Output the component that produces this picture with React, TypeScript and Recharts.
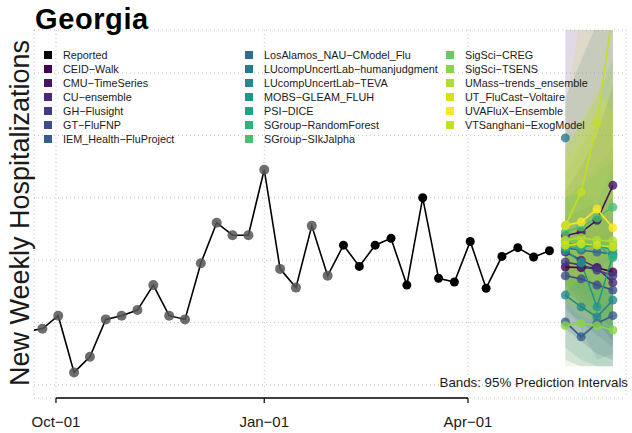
import React from 'react';
import {
  ComposedChart, Line, Area, XAxis, YAxis, CartesianGrid, ReferenceLine
} from 'recharts';

const ORIGIN = '2021-10-01';
const FONT = '"Liberation Sans", Arial, sans-serif';

// 주간 보고 입원 수 (토요일 기준)
const obsDates = [
  '2021-09-18', '2021-09-25', '2021-10-02', '2021-10-09', '2021-10-16', '2021-10-23', '2021-10-30',
  '2021-11-06', '2021-11-13', '2021-11-20', '2021-11-27', '2021-12-04', '2021-12-11', '2021-12-18',
  '2021-12-25', '2022-01-01', '2022-01-08', '2022-01-15', '2022-01-22', '2022-01-29', '2022-02-05',
  '2022-02-12', '2022-02-19', '2022-02-26', '2022-03-05', '2022-03-12', '2022-03-19', '2022-03-26',
  '2022-04-02', '2022-04-09', '2022-04-16', '2022-04-23', '2022-04-30', '2022-05-07',
];
const reported = [
  86, 90, 111, 20, 45, 105, 111, 120, 160, 111, 105, 195, 260, 240, 240, 345, 186, 156, 255, 175,
  224, 190, 224, 235, 160, 300, 171, 165, 230, 155, 206, 220, 205, 215,
];
// 앞쪽 n개는 회색 점 (이전 값)
const revisedCount = 20;

const tickDates = ['2021-10-01', '2022-01-01', '2022-04-01'];
const tickLabels = ['Oct\u221201', 'Jan\u221201', 'Apr\u221201'];
const gridValues = [0, 100, 200, 300, 400, 500];

const fcDates = ['2022-05-14', '2022-05-21', '2022-05-28', '2022-06-04'];

const models = [
  'CEID\u2212Walk', 'CMU\u2212TimeSeries', 'CU\u2212ensemble', 'GH\u2212Flusight', 'GT\u2212FluFNP',
  'IEM_Health\u2212FluProject', 'LosAlamos_NAU\u2212CModel_Flu', 'LUcompUncertLab\u2212humanjudgment',
  'LUcompUncertLab\u2212TEVA', 'MOBS\u2212GLEAM_FLUH', 'PSI\u2212DICE', 'SGroup\u2212RandomForest',
  'SGroup\u2212SIkJalpha', 'SigSci\u2212CREG', 'SigSci\u2212TSENS', 'UMass\u2212trends_ensemble',
  'UT_FluCast\u2212Voltaire', 'UVAFluX\u2212Ensemble', 'VTSanghani\u2212ExogModel',
];
const colors = [
  '#440154', '#471365', '#48287a', '#443983', '#3d4e8a', '#365d8d', '#2f6b8e', '#29798e',
  '#23888e', '#1f988b', '#20a486', '#2eb37c', '#46c06f', '#65cb5e', '#89d548', '#b1dd2f',
  '#d8e219', '#fde725', '#c2df23',
];

// 모델별 중앙값 (1~4주 앞)
const medians: (number | null)[][] = [
  [189, 188, 188, 181],
  [239, 245, 264, 320],
  [213, 200, 188, 164],
  [197, 192, 184, 175],
  [175, 170, 160, 152],
  [101, 77, 99, 111],
  [220, 216, 213, 210],
  [396, null, null, null],
  [144, 125, 109, 136],
  [216, 196, 125, 207],
  [228, 223, 224, 216],
  [221, 220, 226, 204],
  [245, 253, 268, 285],
  [231, 229, 228, 224],
  [95, 99, 95, 88],
  [232, 236, 232, 231],
  [224, 226, 224, 221],
  [256, 261, 282, 252],
  [255, 309, 420, 600],
];
// 95% 예측구간 하한/상한
const lower: (number | null)[][] = [
  [90, 70, 50, 40], [170, 150, 130, 110], [160, 130, 100, 70], [150, 130, 110, 90],
  [120, 100, 80, 60], [40, 30, 30, 30], [160, 140, 120, 100], [330, null, null, null],
  [60, 40, 30, 30], [130, 90, 40, 50], [150, 130, 110, 90], [140, 120, 100, 80],
  [160, 150, 140, 130], [140, 120, 100, 90], [30, 30, 30, 30], [140, 120, 110, 100],
  [130, 110, 100, 90], [180, 170, 160, 150], [150, 170, 200, 240],
];
const upper: (number | null)[][] = [
  [600, 650, 700, 750], [310, 350, 400, 480], [270, 280, 290, 300], [250, 260, 270, 280],
  [240, 250, 260, 270], [170, 170, 180, 190], [460, 520, 580, 640], [470, null, null, null],
  [240, 230, 220, 250], [300, 310, 290, 350], [300, 320, 340, 360], [300, 320, 350, 380],
  [380, 420, 460, 520], [340, 380, 420, 460], [170, 180, 190, 200], [380, 420, 470, 520],
  [360, 400, 440, 480], [380, 420, 470, 440], [440, 600, 800, 1000],
];

const dayOf = (d: string) => Math.round((Date.parse(d) - Date.parse(ORIGIN)) / 86400000);
const tickDays = tickDates.map(dayOf);

const rows: any[] = [
  ...obsDates.map((d, i) => ({
    day: dayOf(d),
    reported: reported[i],
    grey: i < revisedCount ? reported[i] : undefined,
    black: i >= revisedCount ? reported[i] : undefined,
  })),
  ...fcDates.map((d, h) => {
    const r: any = { day: dayOf(d) };
    models.forEach((_, k) => {
      const v = medians[k][h];
      if (v != null) {
        r['m' + k] = v;
        r['b' + k] = [lower[k][h], upper[k][h]];
      }
    });
    return r;
  }),
];

const yDomain = [-21, 569];
const xDomain = [-9.7, 251.8];

function Overlay() {
  const legendItems = [{ name: 'Reported', color: '#000' }, ...models.map((m, k) => ({ name: m, color: colors[k] }))];
  const colX = [44, 245, 446];
  return (
    <svg width={632} height={433} style={{ position: 'absolute', left: 0, top: 0, pointerEvents: 'none' }}>
      <text x={35} y={29} fontFamily={FONT} fontWeight="bold" fontSize={29} letterSpacing={0.6} fill="#000">Georgia</text>
      <text transform="translate(29,213) rotate(-90)" textAnchor="middle" fontFamily={FONT} fontSize={27} fill="#1a1a1a">
        New Weekly Hospitalizations
      </text>
      {legendItems.map((it, i) => {
        const col = Math.floor(i / 7);
        const row = i % 7;
        const cy = 55 + row * 14;
        return (
          <g key={it.name}>
            <rect x={colX[col]} y={cy - 4} width={8} height={8} fill={it.color} />
            <text x={colX[col] + 19} y={cy + 4} fontFamily={FONT} fontSize={10.8} fill="#1a1a1a">{it.name}</text>
          </g>
        );
      })}
      <text x={628} y={387} textAnchor="end" fontFamily={FONT} fontSize={13.3} fill="#1a1a1a">
        Bands: 95% Prediction Intervals
      </text>
    </svg>
  );
}

export default function App() {
  return (
    <div style={{ position: 'absolute', left: 0, top: 0, width: 632, height: 433, background: '#fff' }}>
      <ComposedChart width={632} height={433} data={rows} margin={{ top: 30, right: 6, bottom: 0, left: 33 }}>
        <CartesianGrid stroke="#c4c4c4" strokeDasharray="1 3" />
        <XAxis
          dataKey="day"
          type="number"
          domain={xDomain}
          allowDataOverflow
          ticks={tickDays}
          interval={0}
          tickFormatter={(v: number) => tickLabels[tickDays.indexOf(v)] ?? ''}
          height={35}
          axisLine={false}
          tickLine={{ stroke: '#000', strokeWidth: 1.2 }}
          tickSize={5}
          tickMargin={13}
          tick={{ fill: '#1a1a1a', fontSize: 15, fontFamily: FONT }}
        />
        <YAxis
          type="number"
          domain={yDomain}
          allowDataOverflow
          ticks={gridValues}
          interval={0}
          width={1}
          tick={() => <g />}
          axisLine={false}
          tickLine={false}
        />
        <ReferenceLine
          segment={[{ x: tickDays[0], y: yDomain[0] }, { x: tickDays[2], y: yDomain[0] }]}
          stroke="#000"
          strokeWidth={1.3}
        />
        {models.map((m, k) => (
          <Area
            key={'b' + k}
            dataKey={'b' + k}
            type="linear"
            stroke="none"
            fill={colors[k]}
            fillOpacity={0.15}
            isAnimationActive={false}
          />
        ))}
        <Line dataKey="grey" stroke="none" dot={{ r: 5, fill: '#555', fillOpacity: 0.85, stroke: 'none' }} isAnimationActive={false} />
        <Line dataKey="reported" stroke="#000" strokeWidth={1.6} dot={false} isAnimationActive={false} />
        <Line dataKey="black" stroke="none" dot={{ r: 4.5, fill: '#000', stroke: 'none' }} isAnimationActive={false} />
        {models.map((m, k) => (
          <Line
            key={'m' + k}
            dataKey={'m' + k}
            stroke={colors[k]}
            strokeWidth={1.6}
            dot={{ r: 4.5, fill: colors[k], fillOpacity: 0.8, stroke: 'none' }}
            isAnimationActive={false}
          />
        ))}
      </ComposedChart>
      <Overlay />
    </div>
  );
}
